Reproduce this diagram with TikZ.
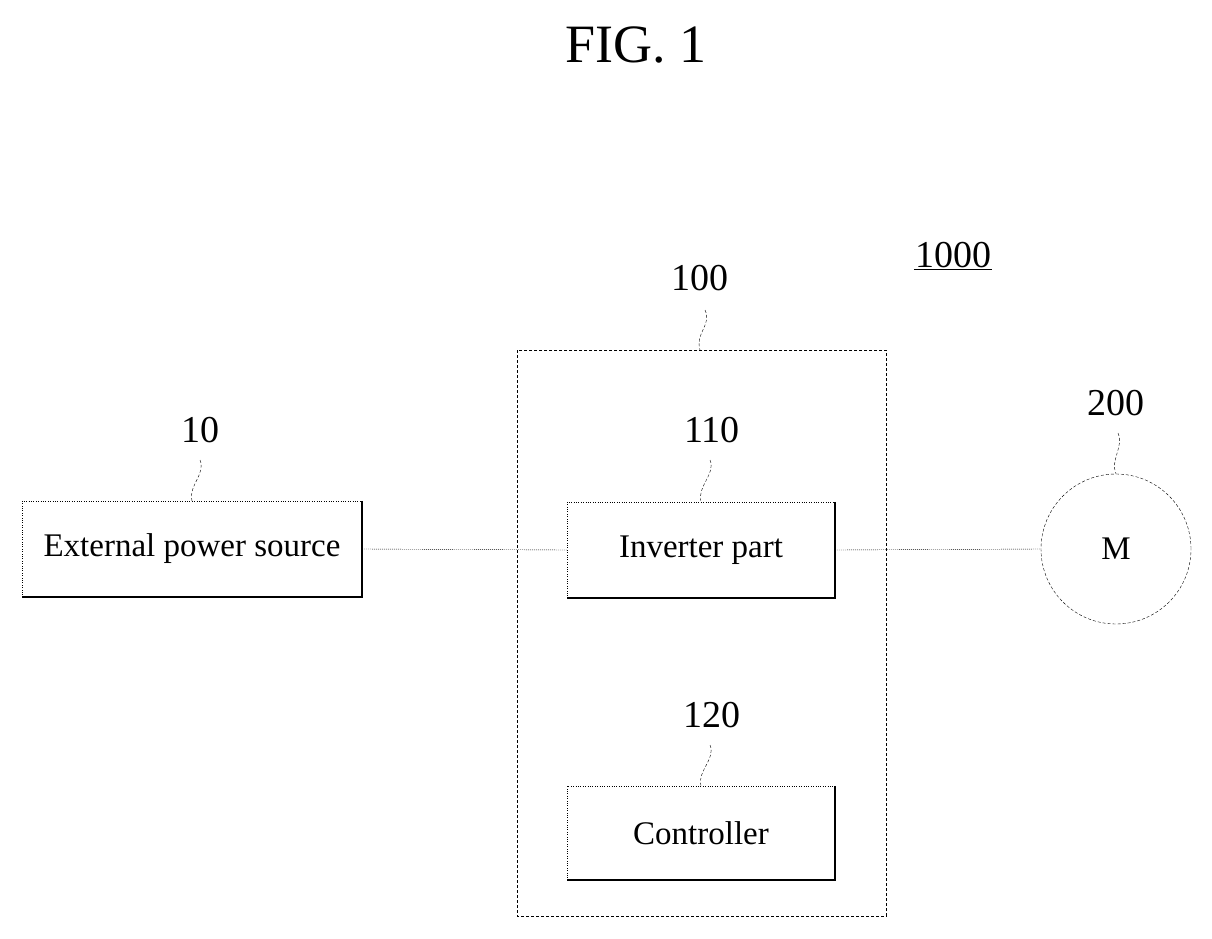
\documentclass[tikz,border=0pt]{standalone}
\usepackage{fontspec}
\setmainfont{Liberation Serif}
\usepackage{tikz}
\tikzset{
  block/.style={draw=none,fill=white,minimum width=268pt,minimum height=96pt,font=\fontsize{33}{36}\selectfont},
  reflabel/.style={font=\fontsize{38}{40}\selectfont},
  leader/.style={thin,dash pattern=on 3pt off 2pt},
  wire/.style={thin,dash pattern=on 1pt off 1pt}
}
% box with thin top/left and heavy bottom/right edge
\newcommand\patentbox[1]{%
  \draw[thin,dotted] (#1.south west) -- (#1.north west) -- (#1.north east);
  \draw[line width=2pt] (#1.north east) -- (#1.south east) -- (#1.south west);
}
\begin{document}
\begin{tikzpicture}[x=1pt,y=-1pt]
\useasboundingbox (0,0) rectangle (1212,939);
\node[font=\fontsize{54}{60}\selectfont] (fig) at (636,45) {FIG. 1};
\node[reflabel,inner sep=1pt] (sys) at (953,255) {1000};
\draw[thin] (sys.south west) -- (sys.south east);

% dashed enclosure
\draw[leader] (517,350) rectangle (886,916);
\node[reflabel] (lA) at (700,278) {100};
\coordinate (tA) at (705,310);
\coordinate (bA) at (700,350);
\draw[leader] (tA) .. controls (712,325) and (695,333) .. (bA);

\node[block,minimum width=340pt] (ext) at (192,549) {External power source};
\patentbox{ext}
\node[reflabel] (lB) at (200,430) {10};
\coordinate (tB) at (200,460);
\draw[leader] (tB) .. controls (206,474) and (188,486) .. (ext.north);

\node[block] (inv) at (701,550) {Inverter part};
\patentbox{inv}
\node[reflabel] (lC) at (712,430) {110};
\coordinate (tC) at (710,460);
\draw[leader] (tC) .. controls (716,474) and (697,486) .. (inv.north);

\node[block,minimum height=94pt] (ctl) at (701,833) {Controller};
\patentbox{ctl}
\node[reflabel] (lD) at (712,715) {120};
\coordinate (tD) at (710,745);
\draw[leader] (tD) .. controls (716,759) and (697,771) .. (ctl.north);

\node[circle,leader,draw,minimum size=150pt,font=\fontsize{33}{36}\selectfont] (mot) at (1116,549) {M};
\node[reflabel] (lE) at (1116,403) {200};
\coordinate (tE) at (1118,433);
\draw[leader] (tE) .. controls (1124,447) and (1110,460) .. (mot.north);

\draw[wire] (ext.east) -- (inv.west);
\draw[wire] (inv.east) -- (mot.west);
\end{tikzpicture}
\end{document}
